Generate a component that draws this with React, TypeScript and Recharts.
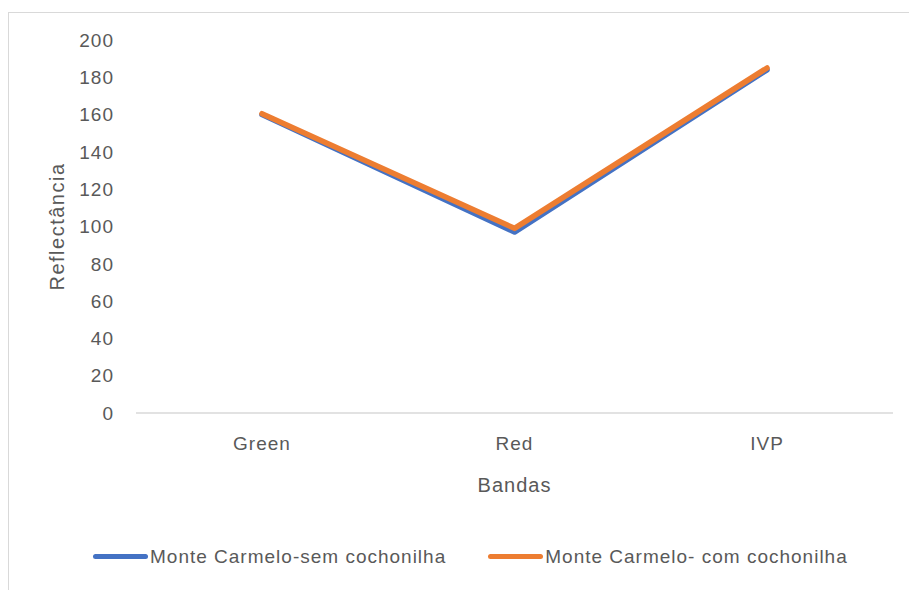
import React from 'react';
import { LineChart, Line, XAxis, YAxis, Legend } from 'recharts';

const bands = ['Green', 'Red', 'IVP'];
const semCochonilha = [160, 97, 184];
const comCochonilha = [160.5, 99, 185];
const yTicks = [0, 20, 40, 60, 80, 100, 120, 140, 160, 180, 200];

const SEM = 'Monte Carmelo-sem cochonilha';
const COM = 'Monte Carmelo- com cochonilha';
const legendOrder = [SEM, COM];

const data = bands.map((b, i) => ({ band: b, sem: semCochonilha[i], com: comCochonilha[i] }));

const FONT = '"Liberation Sans", Arial, sans-serif';
const TEXT = '#595959';

const LegendContent = (props: any) => {
  const payload = [...(props.payload || [])].sort(
    (a: any, b: any) => legendOrder.indexOf(a.value) - legendOrder.indexOf(b.value)
  );
  return (
    <div style={{ display: 'flex', alignItems: 'center', height: 67, paddingLeft: 93, fontFamily: FONT, fontSize: 19, letterSpacing: 1, color: TEXT }}>
      {payload.map((p: any, i: number) => (
        <div key={i} style={{ display: 'flex', alignItems: 'center', marginRight: i === 0 ? 42 : 0 }}>
          <div style={{ width: 55, height: 5, borderRadius: 3, background: p.color, marginRight: 2 }} />
          <span>{p.value}</span>
        </div>
      ))}
    </div>
  );
};

export default function App() {
  return (
    <div style={{ position: 'absolute', left: 0, top: 0, width: 909, height: 590, overflow: 'hidden', background: '#fff' }}>
      <div style={{ position: 'absolute', left: 8, top: 12, width: 1000, height: 700, border: '1.5px solid #d9d9d9' }} />
      <div style={{ position: 'absolute', left: 0, top: 0 }}>
        <LineChart width={909} height={590} data={data} margin={{ top: 40, right: 16, left: 0, bottom: 0 }}>
          <XAxis
            dataKey="band"
            height={110}
            tickLine={false}
            tickSize={0}
            tickMargin={24}
            padding={{ left: 126, right: 126 }}
            axisLine={{ stroke: '#d9d9d9', strokeWidth: 1.5 }}
            tick={{ fill: TEXT, fontSize: 19, fontFamily: FONT, letterSpacing: 1 }}
            label={{ value: 'Bandas', position: 'insideTop', offset: 65, fill: TEXT, fontSize: 20, fontFamily: FONT, letterSpacing: 1 }}
          />
          <YAxis
            width={136}
            domain={[0, 200]}
            ticks={yTicks}
            axisLine={false}
            tickLine={false}
            tickSize={0}
            tickMargin={22}
            interval={0}
            tick={{ fill: TEXT, fontSize: 19, fontFamily: FONT, letterSpacing: 1 }}
            label={{ value: 'Reflectância', angle: -90, position: 'insideLeft', offset: 57, textAnchor: 'middle', fill: TEXT, fontSize: 20, fontFamily: FONT, letterSpacing: 1.5 }}
          />
          <Legend verticalAlign="bottom" align="left" itemSorter={null as any} wrapperStyle={{ left: 0, width: 909, height: 67 }} content={<LegendContent />} />
          <Line name={SEM} dataKey="sem" stroke="#4472C4" strokeWidth={5.5} strokeLinecap="round" strokeLinejoin="round" dot={false} activeDot={false} isAnimationActive={false} />
          <Line name={COM} dataKey="com" stroke="#ED7D31" strokeWidth={5.5} strokeLinecap="round" strokeLinejoin="round" dot={false} activeDot={false} isAnimationActive={false} />
        </LineChart>
      </div>
    </div>
  );
}
